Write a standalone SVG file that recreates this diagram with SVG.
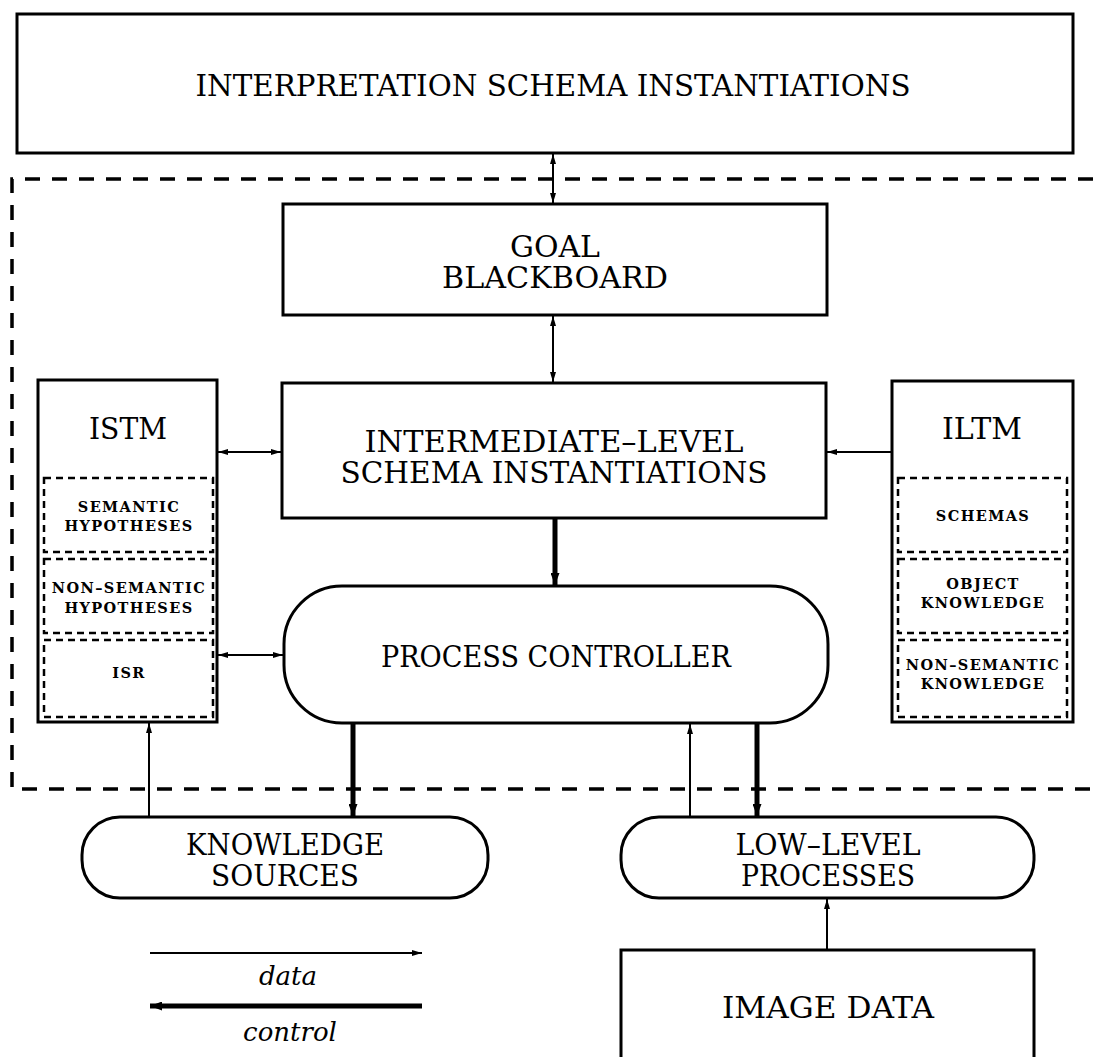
<svg xmlns="http://www.w3.org/2000/svg" width="1093" height="1057" viewBox="0 0 1093 1057">
<style>
.box{fill:#fff;stroke:#000;stroke-width:3}
.open{fill:none;stroke:#000;stroke-width:3}
.sub{fill:none;stroke:#000;stroke-width:2.5;stroke-dasharray:7 5}
.outer{fill:none;stroke:#000;stroke-width:3.5;stroke-dasharray:15 12}
.lbl{font-family:"DejaVu Serif","Liberation Serif",serif;font-size:29px;text-anchor:middle;fill:#000}
.small{font-family:"DejaVu Serif","Liberation Serif",serif;font-size:14.5px;font-weight:bold;letter-spacing:1.4px;text-anchor:middle;fill:#000}
.it{font-family:"DejaVu Serif","Liberation Serif",serif;font-size:26px;font-style:italic;text-anchor:middle;fill:#000}
.thin{fill:none;stroke:#000;stroke-width:2}
.thick{fill:none;stroke:#000;stroke-width:5}
</style>
<defs>
<marker id="ah" viewBox="0 0 10 6" refX="10" refY="3" markerWidth="10" markerHeight="6" markerUnits="userSpaceOnUse" orient="auto-start-reverse"><path d="M0,0 L10,3 L0,6 z" fill="#000"/></marker>
<marker id="ahT" viewBox="0 0 12 9" refX="12" refY="4.5" markerWidth="12" markerHeight="9" markerUnits="userSpaceOnUse" orient="auto-start-reverse"><path d="M0,0 L12,4.5 L0,9 z" fill="#000"/></marker>
</defs>
<rect width="1093" height="1057" fill="#fff"/>
<path class="outer" d="M1093,179 H12 V789 H1093"/>
<g id="interpretation">
<rect class="box" x="17" y="14" width="1056" height="139"/>
<text class="lbl" x="553" y="96" textLength="715" lengthAdjust="spacingAndGlyphs">INTERPRETATION SCHEMA INSTANTIATIONS</text>
</g>
<g id="goal">
<rect class="box" x="283" y="204" width="544" height="111"/>
<text class="lbl" x="555" y="257" textLength="90" lengthAdjust="spacingAndGlyphs">GOAL</text>
<text class="lbl" x="555" y="288" textLength="226" lengthAdjust="spacingAndGlyphs">BLACKBOARD</text>
</g>
<g id="intermediate">
<rect class="box" x="282" y="383" width="544" height="135"/>
<text class="lbl" x="554" y="452" textLength="379" lengthAdjust="spacingAndGlyphs">INTERMEDIATE–LEVEL</text>
<text class="lbl" x="554" y="483" textLength="427" lengthAdjust="spacingAndGlyphs">SCHEMA INSTANTIATIONS</text>
</g>
<g id="istm">
<rect class="box" x="38" y="380" width="179" height="342"/>
<text class="lbl" x="128" y="439" textLength="78" lengthAdjust="spacingAndGlyphs">ISTM</text>
<rect class="sub" x="44" y="478" width="169" height="74"/>
<rect class="sub" x="44" y="559" width="169" height="74"/>
<rect class="sub" x="44" y="640" width="169" height="77"/>
<text class="small" x="129" y="512">SEMANTIC</text>
<text class="small" x="129" y="531">HYPOTHESES</text>
<text class="small" x="129" y="593">NON–SEMANTIC</text>
<text class="small" x="129" y="613">HYPOTHESES</text>
<text class="small" x="129" y="678">ISR</text>
</g>
<g id="iltm">
<rect class="box" x="892" y="381" width="181" height="341"/>
<text class="lbl" x="982" y="439" textLength="80" lengthAdjust="spacingAndGlyphs">ILTM</text>
<rect class="sub" x="898" y="478" width="169" height="74"/>
<rect class="sub" x="898" y="559" width="169" height="74"/>
<rect class="sub" x="898" y="640" width="169" height="77"/>
<text class="small" x="983" y="521">SCHEMAS</text>
<text class="small" x="983" y="589">OBJECT</text>
<text class="small" x="983" y="608">KNOWLEDGE</text>
<text class="small" x="983" y="670">NON–SEMANTIC</text>
<text class="small" x="983" y="689">KNOWLEDGE</text>
</g>
<g id="controller">
<rect class="box" x="284" y="586" width="544" height="137" rx="58" ry="58"/>
<text class="lbl" x="556" y="667" textLength="350" lengthAdjust="spacingAndGlyphs">PROCESS CONTROLLER</text>
</g>
<g id="knowledge">
<rect class="box" x="82" y="817" width="406" height="81" rx="38" ry="38"/>
<text class="lbl" x="285" y="855" textLength="198" lengthAdjust="spacingAndGlyphs">KNOWLEDGE</text>
<text class="lbl" x="285" y="886" textLength="148" lengthAdjust="spacingAndGlyphs">SOURCES</text>
</g>
<g id="lowlevel">
<rect class="box" x="621" y="817" width="413" height="81" rx="38" ry="38"/>
<text class="lbl" x="828" y="855" textLength="185" lengthAdjust="spacingAndGlyphs">LOW–LEVEL</text>
<text class="lbl" x="828" y="886" textLength="174" lengthAdjust="spacingAndGlyphs">PROCESSES</text>
</g>
<g id="imagedata">
<path class="open" d="M621,1060 V950 H1034 V1060"/>
<text class="lbl" x="828" y="1018" textLength="212" lengthAdjust="spacingAndGlyphs">IMAGE DATA</text>
</g>
<g id="legend">
<line class="thin" x1="150" y1="953" x2="422" y2="953" marker-end="url(#ah)"/>
<text class="it" x="288" y="985">data</text>
<line class="thick" x1="422" y1="1006" x2="150" y2="1006" marker-end="url(#ahT)"/>
<text class="it" x="290" y="1041">control</text>
</g>
<g id="connectors">
<line class="thin" x1="553" y1="154" x2="553" y2="203" marker-start="url(#ah)" marker-end="url(#ah)"/>
<line class="thin" x1="553" y1="316" x2="553" y2="382" marker-start="url(#ah)" marker-end="url(#ah)"/>
<line class="thin" x1="218" y1="452" x2="281" y2="452" marker-start="url(#ah)" marker-end="url(#ah)"/>
<line class="thin" x1="892" y1="452" x2="827" y2="452" marker-end="url(#ah)"/>
<line class="thick" x1="555" y1="519" x2="555" y2="585" marker-end="url(#ahT)"/>
<line class="thin" x1="218" y1="655" x2="283" y2="655" marker-start="url(#ah)" marker-end="url(#ah)"/>
<line class="thick" x1="353" y1="724" x2="353" y2="816" marker-end="url(#ahT)"/>
<line class="thin" x1="149" y1="816" x2="149" y2="723" marker-end="url(#ah)"/>
<line class="thin" x1="690" y1="816" x2="690" y2="724" marker-end="url(#ah)"/>
<line class="thick" x1="757" y1="724" x2="757" y2="816" marker-end="url(#ahT)"/>
<line class="thin" x1="827" y1="949" x2="827" y2="899" marker-end="url(#ah)"/>
</g>
</svg>
